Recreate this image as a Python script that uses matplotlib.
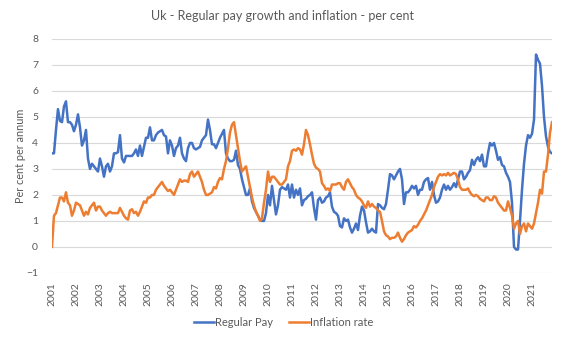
import numpy as np
import matplotlib
matplotlib.use("Agg")
import matplotlib.pyplot as plt

# monthly values, Jan 2001 - Nov 2021 (one row per year)
regular_pay = [
    3.6, 3.6, 4.5, 5.3, 4.85, 4.8, 5.4, 5.6, 4.8, 4.8, 4.7, 4.45,
    4.7, 5.1, 4.6, 3.9, 4.1, 4.5, 3.4, 3.0, 3.2, 3.1, 3.0, 2.9,
    3.4, 3.1, 2.7, 3.1, 3.2, 2.9, 3.1, 3.6, 3.6, 3.65, 4.3, 3.4,
    3.25, 3.5, 3.5, 3.5, 3.5, 3.6, 3.75, 3.5, 3.9, 3.5, 3.85, 4.2,
    4.2, 4.6, 4.1, 4.1, 4.3, 4.4, 4.45, 4.5, 4.3, 4.25, 3.6, 4.1,
    3.9, 3.5, 3.8, 3.9, 4.2, 3.6, 3.4, 3.3, 3.8, 4.0, 4.0, 3.8,
    3.75, 3.8, 3.85, 4.1, 4.2, 4.3, 4.9, 4.5, 3.95, 3.95, 3.8, 4.0,
    4.2, 4.35, 4.5, 3.6, 3.4, 3.3, 3.3, 3.35, 3.7, 3.15, 3.0, 2.6,
    2.3, 2.0, 2.0, 2.25, 1.75, 1.5, 1.35, 1.2, 1.05, 1.0, 1.0, 1.3,
    2.0, 1.6, 2.35, 1.8, 1.25, 1.6, 2.2, 2.3, 2.25, 2.2, 2.4, 1.9,
    2.4, 1.9, 2.2, 2.0, 2.25, 1.6, 1.8, 1.85, 1.95, 2.0, 2.1, 1.5,
    1.05, 1.8, 1.9, 1.7, 1.75, 1.9, 1.95, 2.1, 1.55, 1.35, 1.3, 1.2,
    0.8, 0.75, 1.1, 1.0, 1.05, 0.75, 0.55, 0.7, 0.9, 0.65, 1.2, 1.55,
    1.4, 0.95, 0.55, 0.6, 0.7, 0.6, 0.55, 1.65, 1.6, 1.5, 1.45, 1.65,
    2.2, 2.8, 2.75, 2.6, 2.75, 2.9, 3.0, 2.6, 1.65, 2.1, 2.1, 2.2,
    2.35, 2.25, 2.35, 2.0, 2.2, 2.2, 2.5, 2.6, 2.65, 2.2, 2.5, 2.0,
    1.7, 1.75, 1.9, 2.2, 2.4, 2.2, 2.35, 2.2, 2.3, 2.45, 2.3, 2.6,
    2.9, 2.9, 2.6, 2.7, 2.85, 2.95, 3.35, 3.15, 3.35, 3.45, 3.3, 3.55,
    3.1, 3.1, 3.6, 4.0, 3.9, 4.0, 3.7, 3.35, 3.45, 3.15, 3.1, 2.85,
    2.7, 2.5, 1.7, 0.0, -0.1, -0.1, 1.0, 2.2, 3.2, 3.9, 4.3, 4.2,
    4.35, 4.9, 7.4, 7.2, 7.05, 6.2, 5.0, 4.25, 3.85, 3.65, 3.6,
]

inflation_rate = [
    0.0, 1.2, 1.3, 1.6, 1.9, 1.9, 1.75, 2.1, 1.7, 1.6, 1.2, 1.4,
    1.7, 1.65, 1.6, 1.4, 1.2, 1.35, 1.25, 1.5, 1.6, 1.7, 1.4, 1.55,
    1.55, 1.4, 1.3, 1.2, 1.3, 1.35, 1.3, 1.3, 1.3, 1.3, 1.5, 1.35,
    1.2, 1.1, 1.05, 1.4, 1.45, 1.3, 1.35, 1.2, 1.35, 1.55, 1.75, 1.7,
    1.9, 1.9, 2.0, 2.0, 2.2, 2.3, 2.4, 2.5, 2.35, 2.25, 2.15, 2.2,
    2.1, 2.0, 2.2, 2.4, 2.6, 2.5, 2.55, 2.55, 2.5, 2.8, 2.9, 2.7,
    2.8, 2.9, 2.7, 2.5, 2.2, 2.0, 2.0, 2.05, 2.1, 2.3, 2.25, 2.5,
    2.65, 2.6, 3.0, 3.3, 3.8, 4.4, 4.7, 4.8, 4.3, 3.8, 3.3, 2.9,
    3.0, 3.1, 2.7, 2.3, 1.9, 1.6, 1.35, 1.2, 1.0, 1.1, 1.7, 2.2,
    2.9, 2.5, 2.7, 2.7, 2.6, 2.5, 2.4, 2.4, 2.5, 2.6, 3.1, 3.3,
    3.7, 3.75, 3.7, 3.8, 3.75, 3.55, 3.95, 4.5, 4.3, 3.95, 3.55, 3.2,
    3.05, 3.0, 2.9, 2.45, 2.35, 2.2, 2.25, 2.15, 2.4, 2.4, 2.4, 2.45,
    2.45, 2.3, 2.2, 2.5, 2.6, 2.45, 2.3, 2.2, 2.0, 1.9, 1.85, 1.75,
    1.6, 1.5, 1.75, 1.55, 1.65, 1.55, 1.5, 1.4, 1.35, 1.0, 0.6, 0.45,
    0.4, 0.3, 0.35, 0.35, 0.4, 0.55, 0.35, 0.2, 0.3, 0.45, 0.55, 0.6,
    0.65, 0.8, 0.75, 0.85, 1.0, 1.1, 1.25, 1.4, 1.6, 1.8, 2.0, 2.3,
    2.5, 2.7, 2.8, 2.75, 2.8, 2.75, 2.85, 2.75, 2.8, 2.85, 2.8, 2.6,
    2.3, 2.2, 2.2, 2.2, 2.25, 2.1, 2.0, 1.95, 2.0, 1.95, 1.85, 1.8,
    1.75, 1.9, 1.9, 1.8, 1.8, 1.95, 1.9, 1.7, 1.6, 1.5, 1.4, 1.4,
    1.75, 1.5, 1.2, 0.7, 0.9, 1.0, 0.5, 0.8, 0.9, 0.6, 0.9, 0.8,
    0.7, 0.9, 1.3, 1.7, 2.2, 2.05, 2.9, 2.9, 3.55, 4.4, 4.8,
]

years = [str(y) for y in range(2001, 2022)]

plt.rcParams['font.family'] = ['Lato', 'DejaVu Sans']
text_col = '#595959'

fig = plt.figure(figsize=(5.65, 3.39), dpi=100)
ax = fig.add_axes([0.092, 0.195, 0.885, 0.69])

x = np.arange(len(regular_pay))
ax.plot(x, regular_pay, color='#4472C4', lw=1.8, label='Regular Pay')
ax.plot(x, inflation_rate, color='#ED7D31', lw=1.8, label='Inflation rate')

ax.set_xlim(0, len(regular_pay) - 1)
ax.set_ylim(-1, 8)
ax.set_yticks(range(-1, 9))
ax.set_xticks(np.arange(len(years)) * 12)
ax.set_xticklabels(years, rotation=90)
ax.tick_params(axis='both', length=0, labelsize=7.5, colors=text_col)
ax.tick_params(axis='x', pad=7)
ax.tick_params(axis='y', pad=10)
ax.grid(axis='y', color='#D9D9D9', lw=0.8)
ax.set_axisbelow(True)
for s in ax.spines.values():
    s.set_visible(False)

ax.set_ylabel('Per cent per annum', fontsize=7.8, color=text_col, labelpad=0)
fig.text(0.5, 0.953, 'Uk - Regular pay growth and inflation - per cent',
         ha='center', va='center', fontsize=9, color=text_col)
fig.legend(loc='center', bbox_to_anchor=(0.502, 0.05), ncol=2, frameon=False,
           fontsize=8, labelcolor=text_col, handlelength=1.8, handletextpad=0.1,
           columnspacing=1.4)

fig.savefig('out.png', dpi=100)
